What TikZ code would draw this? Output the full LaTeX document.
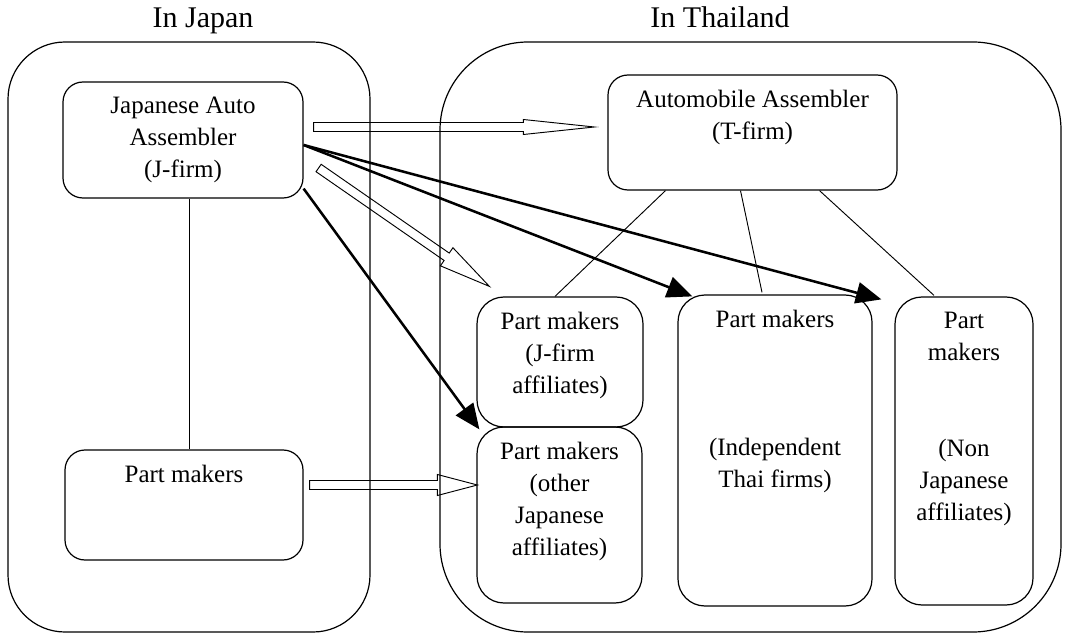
\documentclass[tikz,border=0pt]{standalone}
\usepackage{fontspec}
\setmainfont{Liberation Serif}
\usetikzlibrary{positioning, arrows.meta, calc}
\definecolor{DiagInk}{HTML}{000000}
\definecolor{DiagBG}{HTML}{FFFFFF}
\newlength{\pxu}
\setlength{\pxu}{0.75pt}
% box text: width, height (in px), lines, set from the top
\newcommand{\boxlines}[3]{\parbox[c][#2\pxu][t]{#1\pxu}{\centering\vspace*{15\pxu}#3}}
% open block arrow: start, tip, head length, head half width
\newcommand{\hollowarrow}[4]{%
  \coordinate (#2-base) at ($(#2)!#3*\pxu!(#1)$);
  \draw[hollowarr] ($(#1)!4.5*\pxu!90:(#2)$) -- ($(#2-base)!4.5*\pxu!-90:(#1)$)
    -- ($(#2-base)!#4*\pxu!-90:(#1)$) -- (#2)
    -- ($(#2-base)!#4*\pxu!90:(#1)$) -- ($(#2-base)!4.5*\pxu!90:(#1)$)
    -- ($(#1)!4.5*\pxu!-90:(#2)$) -- cycle;}
\tikzset{
  regionbox/.style = {draw=DiagInk, line width=0.9pt, inner sep=0pt},
  regionlbl/.style = {text=DiagInk, inner sep=0pt, anchor=base,
                      font=\fontsize{22.5pt}{27pt}\selectfont},
  firmbox/.style   = {draw=DiagInk, line width=0.9pt, rounded corners=20\pxu,
                      inner sep=0pt, text=DiagInk},
  partbox/.style   = {firmbox, rounded corners=27\pxu},
  tielink/.style   = {DiagInk, line width=0.7pt},
  supplyarr/.style = {-{Triangle[length=19pt, width=16pt]}, DiagInk, line width=1.9pt},
  hollowarr/.style = {draw=DiagInk, line width=0.7pt, line join=miter},
}

\begin{document}
\begin{tikzpicture}[x=0.75pt, y=-0.75pt, font=\fontsize{18.75pt}{24pt}\selectfont]
    \useasboundingbox[fill=DiagBG] (0,0) rectangle (1068,638);
    % the two countries
    \node[regionbox, minimum width=362\pxu, minimum height=590\pxu, rounded corners=57\pxu] (japan) at (189,337) {};
    \node[regionbox, minimum width=621\pxu, minimum height=590\pxu, rounded corners=88\pxu] (thailand) at (750.5,337) {};
    \node[regionlbl] (japanlbl) at (203,28) {In Japan};
    \node[regionlbl] (thailandlbl) at (720,28) {In Thailand};
    % firms
    \node[firmbox] (jfirm) at (183,140) {\boxlines{240}{116}{Japanese Auto\\Assembler\\(J-firm)}};
    \node[firmbox] (jparts) at (184,505) {\boxlines{238}{110}{Part makers}};
    \node[firmbox] (tfirm) at (752.5,132.5) {\boxlines{289}{115}{Automobile Assembler\\(T-firm)}};
    \node[partbox] (jaff) at (560,362) {\boxlines{166}{130}{Part makers\\(J-firm\\affiliates)}};
    \node[partbox] (oaff) at (559.5,515) {\boxlines{165}{176}{Part makers\\(other\\Japanese\\affiliates)}};
    \node[partbox] (thai) at (775,450.5) {\boxlines{194}{311}{Part makers\\[3\baselineskip](Independent\\Thai firms)}};
    \node[partbox] (nonj) at (964,451) {\boxlines{138}{308}{Part\\makers\\[2\baselineskip](Non\\Japanese\\affiliates)}};
    % plain ties
    \draw[tielink] ($(jfirm.south)+(6,0)$) -- ($(jparts.north)+(5,0)$);
    \draw[tielink] ($(tfirm.south)+(-87,0)$) -- ($(jaff.north)+(-5,0)$);
    \draw[tielink] ($(tfirm.south)+(-12,0)$) -- ($(thai.north)+(-13,-2)$);
    \draw[tielink] ($(tfirm.south)+(67,0)$) -- ($(nonj.north)+(-30,-1)$);
    % open arrows
    \coordinate (h1s) at ($(jfirm.east)+(10,-13)$);
    \coordinate (h1t) at ($(tfirm.west)+(-13,-5.5)$);
    \coordinate (h2s) at ($(jfirm.east)+(15,28)$);
    \coordinate (h2t) at ($(jaff.north west)+(13,-10)$);
    \coordinate (h3s) at ($(jparts.east)+(6,-20)$);
    \coordinate (h3t) at ($(oaff.west)+(1,-30)$);
    \hollowarrow{h1s}{h1t}{71}{7.5}
    \hollowarrow{h2s}{h2t}{52}{11}
    \hollowarrow{h3s}{h3t}{40}{10.5}
    % solid arrows
    \draw[supplyarr] ($(jfirm.east)+(0,5)$) -- ($(thai.north west)+(15,2)$);
    \draw[supplyarr] ($(jfirm.east)+(0,5)$) -- ($(nonj.north west)+(-13,3)$);
    \draw[supplyarr] ($(jfirm.south east)+(0,-10)$) -- ($(oaff.north west)+(3,3)$);
\end{tikzpicture}
\end{document}
